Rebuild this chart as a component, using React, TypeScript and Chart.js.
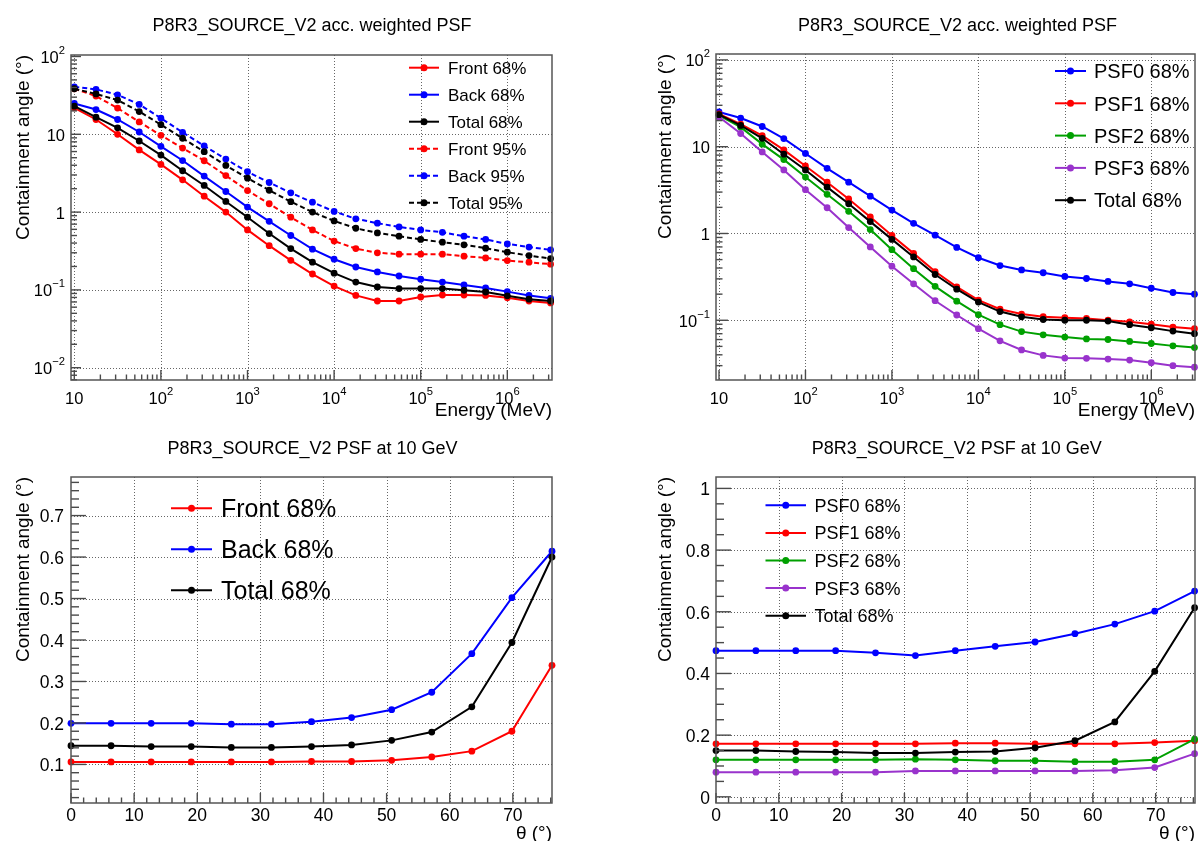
import React, { useEffect, useRef } from 'react';
import { Chart, registerables } from 'chart.js';

Chart.register(...registerables);

const FONT = '"Liberation Sans", Arial, Helvetica, sans-serif';

// ---------- data: energy dependence ----------
const energyMeV = [10, 17.8, 31.6, 56.2, 100, 178, 316, 562, 1000, 1780, 3160, 5620, 10000, 17800, 31600, 56200, 100000, 178000, 316000, 562000, 1000000, 1780000, 3160000];

const front68E = [21.9, 15.5, 10, 6.3, 4.1, 2.6, 1.6, 1.0, 0.59, 0.37, 0.24, 0.16, 0.112, 0.085, 0.072, 0.072, 0.081, 0.086, 0.086, 0.085, 0.079, 0.072, 0.068];
const back68E = [24.9, 20.8, 15.5, 10.7, 7.0, 4.6, 2.9, 1.84, 1.16, 0.76, 0.5, 0.334, 0.248, 0.197, 0.17, 0.151, 0.137, 0.126, 0.116, 0.106, 0.095, 0.085, 0.078];
const total68E = [23, 16.6, 12.1, 8.2, 5.4, 3.4, 2.2, 1.37, 0.86, 0.53, 0.34, 0.227, 0.164, 0.126, 0.109, 0.104, 0.104, 0.104, 0.099, 0.094, 0.084, 0.076, 0.072];
const front95E = [38.5, 31, 21.7, 14.4, 9.7, 6.65, 4.57, 2.95, 1.89, 1.28, 0.86, 0.59, 0.424, 0.34, 0.3, 0.288, 0.288, 0.288, 0.271, 0.258, 0.238, 0.227, 0.214];
const back95E = [40.8, 37.8, 32.2, 24.2, 16.1, 10.6, 7.1, 4.8, 3.3, 2.4, 1.77, 1.34, 1.02, 0.82, 0.72, 0.645, 0.59, 0.55, 0.49, 0.445, 0.39, 0.355, 0.327];
const total95E = [38.5, 33, 27.5, 19.6, 13.3, 8.9, 5.97, 3.98, 2.73, 1.91, 1.36, 1.0, 0.77, 0.62, 0.54, 0.49, 0.445, 0.41, 0.38, 0.344, 0.305, 0.276, 0.253];

const psf0E = [25.1, 21.4, 17.1, 12.4, 8.36, 5.63, 3.9, 2.69, 1.86, 1.31, 0.955, 0.69, 0.525, 0.427, 0.38, 0.353, 0.32, 0.303, 0.28, 0.263, 0.234, 0.209, 0.2];
const psf1E = [23.8, 18.2, 13.4, 9.2, 6.0, 3.9, 2.5, 1.55, 0.95, 0.59, 0.364, 0.243, 0.171, 0.134, 0.118, 0.11, 0.107, 0.105, 0.1, 0.096, 0.09, 0.0835, 0.08];
const psf2E = [23, 16.8, 10.7, 7.1, 4.47, 2.83, 1.8, 1.11, 0.65, 0.393, 0.246, 0.166, 0.116, 0.089, 0.074, 0.068, 0.064, 0.061, 0.06, 0.057, 0.054, 0.0507, 0.0484];
const psf3E = [22, 14.2, 8.7, 5.4, 3.2, 1.98, 1.17, 0.7, 0.42, 0.263, 0.168, 0.115, 0.08, 0.058, 0.0455, 0.0394, 0.0367, 0.0364, 0.0357, 0.0348, 0.0324, 0.03, 0.0288];
const totalPsfE = [23.4, 17.6, 12.5, 8.2, 5.4, 3.42, 2.2, 1.37, 0.855, 0.537, 0.337, 0.228, 0.162, 0.126, 0.1096, 0.102, 0.1, 0.1, 0.098, 0.089, 0.082, 0.075, 0.07];

// ---------- data: off-axis angle dependence at 10 GeV ----------
const thetaDeg = [0, 6.35, 12.7, 19.05, 25.4, 31.75, 38.1, 44.45, 50.8, 57.15, 63.5, 69.85, 76.2];

const front68T = [0.106, 0.106, 0.106, 0.106, 0.106, 0.106, 0.107, 0.107, 0.11, 0.118, 0.132, 0.18, 0.339];
const back68T = [0.199, 0.199, 0.199, 0.199, 0.197, 0.197, 0.203, 0.213, 0.232, 0.274, 0.367, 0.502, 0.614];
const total68T = [0.145, 0.145, 0.143, 0.143, 0.141, 0.141, 0.143, 0.147, 0.158, 0.178, 0.239, 0.394, 0.6];

const psf0T = [0.474, 0.474, 0.474, 0.474, 0.467, 0.458, 0.474, 0.488, 0.502, 0.529, 0.56, 0.602, 0.667];
const psf1T = [0.172, 0.172, 0.172, 0.172, 0.172, 0.172, 0.174, 0.174, 0.172, 0.172, 0.172, 0.176, 0.182];
const psf2T = [0.12, 0.12, 0.12, 0.12, 0.12, 0.122, 0.12, 0.117, 0.117, 0.114, 0.114, 0.12, 0.187];
const psf3T = [0.08, 0.08, 0.08, 0.08, 0.08, 0.084, 0.084, 0.084, 0.084, 0.084, 0.086, 0.095, 0.14];
const totalPsfT = [0.15, 0.15, 0.147, 0.145, 0.142, 0.142, 0.145, 0.147, 0.159, 0.182, 0.243, 0.407, 0.613];

// ---------- tick labels ----------
const energyTicks = [10, 100, 1000, 10000, 100000, 1000000];
const energyTickLabels = ['10', '10^2', '10^3', '10^4', '10^5', '10^6'];
const angleTicksTL = [0.01, 0.1, 1, 10, 100];
const angleTickLabelsTL = ['10^\u22122', '10^\u22121', '1', '10', '10^2'];
const angleTicksTR = [0.1, 1, 10, 100];
const angleTickLabelsTR = ['10^\u22121', '1', '10', '10^2'];
const thetaTicks = [0, 10, 20, 30, 40, 50, 60, 70];
const thetaTickLabels = ['0', '10', '20', '30', '40', '50', '60', '70'];
const angleTicksBL = [0.1, 0.2, 0.3, 0.4, 0.5, 0.6, 0.7];
const angleTickLabelsBL = ['0.1', '0.2', '0.3', '0.4', '0.5', '0.6', '0.7'];
const angleTicksBR = [0, 0.2, 0.4, 0.6, 0.8, 1];
const angleTickLabelsBR = ['0', '0.2', '0.4', '0.6', '0.8', '1'];

const RED = '#ff0000';
const BLUE = '#0000ff';
const BLACK = '#000000';
const GREEN = '#00a000';
const PURPLE = '#9933cc';

type Series = { label: string; data: number[]; color: string; dashed?: boolean };
type PanelSpec = {
  area: { l: number; t: number; r: number; b: number };
  xType: 'linear' | 'logarithmic';
  yType: 'linear' | 'logarithmic';
  xMin: number; xMax: number; yMin: number; yMax: number;
  xMajor: number[]; xLabels: string[]; yMajor: number[]; yLabels: string[];
  xMinorStep: number; yMinorStep: number;
  xTickLen: [number, number]; yTickLen: [number, number];
  tickFont: number; xLabelBaseline: number; yLabelRight: number;
  title: string; titleX: number; titleY: number; titleFont: number;
  xTitle: string; xTitleY: number; yTitle: string; yTitleX: number; axisTitleFont: number;
  legend: { x0: number; x1: number; tx: number; y0: number; dy: number; font: number };
  x: number[];
  series: Series[];
};

const panels: PanelSpec[] = [
  {
    area: { l: 71, t: 55, r: 552, b: 380 },
    xType: 'logarithmic', yType: 'logarithmic',
    xMin: 9.16, xMax: 3.28e6, yMin: 0.00695, yMax: 104.5,
    xMajor: energyTicks, xLabels: energyTickLabels, yMajor: angleTicksTL, yLabels: angleTickLabelsTL,
    xMinorStep: 0, yMinorStep: 0,
    xTickLen: [10, 5.5], yTickLen: [10, 6],
    tickFont: 16.5, xLabelBaseline: 404, yLabelRight: 65,
    title: 'P8R3_SOURCE_V2 acc. weighted PSF', titleX: 312, titleY: 30.5, titleFont: 18,
    xTitle: 'Energy (MeV)', xTitleY: 416, yTitle: 'Containment angle (\u00b0)', yTitleX: 29, axisTitleFont: 19,
    legend: { x0: 409, x1: 439, tx: 448, y0: 67.7, dy: 27, font: 17 },
    x: energyMeV,
    series: [
      { label: 'Front 68%', data: front68E, color: RED },
      { label: 'Back 68%', data: back68E, color: BLUE },
      { label: 'Total 68%', data: total68E, color: BLACK },
      { label: 'Front 95%', data: front95E, color: RED, dashed: true },
      { label: 'Back 95%', data: back95E, color: BLUE, dashed: true },
      { label: 'Total 95%', data: total95E, color: BLACK, dashed: true },
    ],
  },
  {
    area: { l: 716, t: 54, r: 1195, b: 380 },
    xType: 'logarithmic', yType: 'logarithmic',
    xMin: 9.23, xMax: 3.17e6, yMin: 0.0205, yMax: 117,
    xMajor: energyTicks, xLabels: energyTickLabels, yMajor: angleTicksTR, yLabels: angleTickLabelsTR,
    xMinorStep: 0, yMinorStep: 0,
    xTickLen: [10, 5.5], yTickLen: [12, 6.5],
    tickFont: 16.5, xLabelBaseline: 404, yLabelRight: 710,
    title: 'P8R3_SOURCE_V2 acc. weighted PSF', titleX: 957.5, titleY: 30.5, titleFont: 18,
    xTitle: 'Energy (MeV)', xTitleY: 416, yTitle: 'Containment angle (\u00b0)', yTitleX: 671, axisTitleFont: 19,
    legend: { x0: 1055, x1: 1086, tx: 1094, y0: 71, dy: 32.3, font: 20 },
    x: energyMeV,
    series: [
      { label: 'PSF0 68%', data: psf0E, color: BLUE },
      { label: 'PSF1 68%', data: psf1E, color: RED },
      { label: 'PSF2 68%', data: psf2E, color: GREEN },
      { label: 'PSF3 68%', data: psf3E, color: PURPLE },
      { label: 'Total 68%', data: totalPsfE, color: BLACK },
    ],
  },
  {
    area: { l: 71, t: 477, r: 552, b: 803 },
    xType: 'linear', yType: 'linear',
    xMin: 0, xMax: 76.2, yMin: 0.007, yMax: 0.793,
    xMajor: thetaTicks, xLabels: thetaTickLabels, yMajor: angleTicksBL, yLabels: angleTickLabelsBL,
    xMinorStep: 2, yMinorStep: 0.02,
    xTickLen: [10, 5.5], yTickLen: [15, 8],
    tickFont: 17.5, xLabelBaseline: 820.5, yLabelRight: 64,
    title: 'P8R3_SOURCE_V2 PSF at 10 GeV', titleX: 312.5, titleY: 454, titleFont: 18,
    xTitle: '\u03b8 (\u00b0)', xTitleY: 838.5, yTitle: 'Containment angle (\u00b0)', yTitleX: 29, axisTitleFont: 19,
    legend: { x0: 171, x1: 212, tx: 221, y0: 508.3, dy: 41, font: 25 },
    x: thetaDeg,
    series: [
      { label: 'Front 68%', data: front68T, color: RED },
      { label: 'Back 68%', data: back68T, color: BLUE },
      { label: 'Total 68%', data: total68T, color: BLACK },
    ],
  },
  {
    area: { l: 716, t: 477, r: 1195, b: 803 },
    xType: 'linear', yType: 'linear',
    xMin: 0, xMax: 76.2, yMin: -0.02, yMax: 1.037,
    xMajor: thetaTicks, xLabels: thetaTickLabels, yMajor: angleTicksBR, yLabels: angleTickLabelsBR,
    xMinorStep: 2, yMinorStep: 0.05,
    xTickLen: [10, 5.5], yTickLen: [15, 8],
    tickFont: 17.5, xLabelBaseline: 820.5, yLabelRight: 710,
    title: 'P8R3_SOURCE_V2 PSF at 10 GeV', titleX: 956.8, titleY: 454, titleFont: 18,
    xTitle: '\u03b8 (\u00b0)', xTitleY: 838.5, yTitle: 'Containment angle (\u00b0)', yTitleX: 671, axisTitleFont: 19,
    legend: { x0: 765.5, x1: 806, tx: 814.5, y0: 505.3, dy: 27.6, font: 18 },
    x: thetaDeg,
    series: [
      { label: 'PSF0 68%', data: psf0T, color: BLUE },
      { label: 'PSF1 68%', data: psf1T, color: RED },
      { label: 'PSF2 68%', data: psf2T, color: GREEN },
      { label: 'PSF3 68%', data: psf3T, color: PURPLE },
      { label: 'Total 68%', data: totalPsfT, color: BLACK },
    ],
  },
];

function tickSet(type: string, min: number, max: number, step: number, majors: number[]) {
  const out: { v: number; major: boolean }[] = [];
  if (type === 'logarithmic') {
    for (let e = Math.floor(Math.log10(min)); e <= Math.ceil(Math.log10(max)); e++) {
      for (let m = 1; m <= 9; m++) {
        const v = m * Math.pow(10, e);
        if (v >= min * 0.9999 && v <= max * 1.0001) out.push({ v, major: m === 1 });
      }
    }
  } else {
    for (let k = Math.ceil(min / step - 1e-9); k * step <= max + 1e-9; k++) {
      const v = k * step;
      out.push({ v, major: majors.some((M) => Math.abs(M - v) < step * 1e-3) });
    }
  }
  return out;
}

function drawSci(ctx: CanvasRenderingContext2D, text: string, x: number, y: number, size: number, align: 'center' | 'right') {
  const parts = text.split('^');
  const base = parts[0];
  const exp = parts[1];
  ctx.font = `${size}px ${FONT}`;
  const wb = ctx.measureText(base).width;
  const es = size * 0.68;
  let we = 0;
  if (exp) {
    ctx.font = `${es}px ${FONT}`;
    we = ctx.measureText(exp).width;
  }
  const total = wb + we;
  const x0 = align === 'center' ? x - total / 2 : x - total;
  ctx.textAlign = 'left';
  ctx.textBaseline = 'alphabetic';
  ctx.font = `${size}px ${FONT}`;
  ctx.fillText(base, x0, y);
  if (exp) {
    ctx.font = `${es}px ${FONT}`;
    ctx.fillText(exp, x0 + wb, y - size * 0.55);
  }
}

function makePlugin(p: PanelSpec) {
  return {
    id: 'rootStyle',
    beforeDatasetsDraw(chart: any) {
      const ctx: CanvasRenderingContext2D = chart.ctx;
      const xs = chart.scales.x;
      const ys = chart.scales.y;
      const { l, t, r, b } = p.area;
      ctx.save();
      ctx.strokeStyle = 'rgba(0,0,0,0.6)';
      ctx.lineWidth = 1;
      ctx.setLineDash([1, 2]);
      for (const v of p.xMajor) {
        const px = Math.round(xs.getPixelForValue(v)) + 0.5;
        if (px < l + 2 || px > r - 2) continue;
        ctx.beginPath();
        ctx.moveTo(px, t);
        ctx.lineTo(px, b);
        ctx.stroke();
      }
      for (const v of p.yMajor) {
        const py = Math.round(ys.getPixelForValue(v)) + 0.5;
        if (py < t + 2 || py > b - 2) continue;
        ctx.beginPath();
        ctx.moveTo(l, py);
        ctx.lineTo(r, py);
        ctx.stroke();
      }
      ctx.restore();
    },
    afterDatasetsDraw(chart: any) {
      const ctx: CanvasRenderingContext2D = chart.ctx;
      const xs = chart.scales.x;
      const ys = chart.scales.y;
      const { l, t, r, b } = p.area;
      ctx.save();
      ctx.setLineDash([]);
      // tick marks
      ctx.strokeStyle = '#4a4a4a';
      ctx.lineWidth = 1.4;
      for (const tk of tickSet(p.xType, p.xMin, p.xMax, p.xMinorStep, p.xMajor)) {
        const px = xs.getPixelForValue(tk.v);
        const len = tk.major ? p.xTickLen[0] : p.xTickLen[1];
        ctx.beginPath();
        ctx.moveTo(px, b);
        ctx.lineTo(px, b - len);
        ctx.stroke();
      }
      for (const tk of tickSet(p.yType, p.yMin, p.yMax, p.yMinorStep, p.yMajor)) {
        const py = ys.getPixelForValue(tk.v);
        const len = tk.major ? p.yTickLen[0] : p.yTickLen[1];
        ctx.beginPath();
        ctx.moveTo(l, py);
        ctx.lineTo(l + len, py);
        ctx.stroke();
      }
      // frame
      ctx.strokeStyle = '#555555';
      ctx.lineWidth = 1.5;
      ctx.strokeRect(l, t, r - l, b - t);

      ctx.fillStyle = '#000000';
      // tick labels
      p.xMajor.forEach((v, i) => {
        drawSci(ctx, p.xLabels[i], xs.getPixelForValue(v), p.xLabelBaseline, p.tickFont, 'center');
      });
      p.yMajor.forEach((v, i) => {
        const py = ys.getPixelForValue(v);
        drawSci(ctx, p.yLabels[i], p.yLabelRight, py + p.tickFont * 0.36 + 0.5, p.tickFont, 'right');
      });
      // panel title
      ctx.font = `${p.titleFont}px ${FONT}`;
      ctx.textAlign = 'center';
      ctx.textBaseline = 'alphabetic';
      ctx.fillText(p.title, p.titleX, p.titleY);
      // axis titles
      ctx.font = `${p.axisTitleFont}px ${FONT}`;
      ctx.textAlign = 'right';
      ctx.fillText(p.xTitle, r, p.xTitleY);
      ctx.save();
      ctx.translate(p.yTitleX, t);
      ctx.rotate(-Math.PI / 2);
      ctx.textAlign = 'right';
      ctx.fillText(p.yTitle, 0, 0);
      ctx.restore();
      // legend
      const lg = p.legend;
      chart.data.datasets.forEach((ds: any, i: number) => {
        const y = lg.y0 + i * lg.dy;
        ctx.strokeStyle = ds.borderColor;
        ctx.lineWidth = 2;
        ctx.setLineDash(ds.borderDash || []);
        ctx.beginPath();
        ctx.moveTo(lg.x0, y);
        ctx.lineTo(lg.x1, y);
        ctx.stroke();
        ctx.setLineDash([]);
        ctx.fillStyle = ds.borderColor;
        ctx.beginPath();
        ctx.arc((lg.x0 + lg.x1) / 2, y, 3.5, 0, Math.PI * 2);
        ctx.fill();
        ctx.fillStyle = '#000000';
        ctx.font = `${lg.font}px ${FONT}`;
        ctx.textAlign = 'left';
        ctx.textBaseline = 'alphabetic';
        ctx.fillText(ds.label, lg.tx, y + lg.font * 0.36);
      });
      ctx.restore();
    },
  };
}

function PanelChart({ spec }: { spec: PanelSpec }) {
  const ref = useRef<HTMLCanvasElement>(null);
  useEffect(() => {
    const canvas = ref.current;
    if (!canvas) return;
    const n = spec.series.length;
    const chart = new Chart(canvas, {
      type: 'line',
      data: {
        datasets: spec.series.map((s, i) => ({
          label: s.label,
          data: spec.x.map((x, k) => ({ x, y: s.data[k] })),
          borderColor: s.color,
          backgroundColor: s.color,
          pointBackgroundColor: s.color,
          pointBorderColor: s.color,
          pointRadius: 3.4,
          pointHoverRadius: 3.4,
          pointBorderWidth: 0,
          borderWidth: 2,
          borderDash: s.dashed ? [5, 3] : [],
          tension: 0,
          fill: false,
          order: n - i,
          clip: 6,
        })),
      },
      options: {
        responsive: false,
        animation: false,
        devicePixelRatio: 1,
        events: [],
        layout: {
          padding: { left: spec.area.l, top: spec.area.t, right: 1198 - spec.area.r, bottom: 841 - spec.area.b },
        },
        scales: {
          x: { type: spec.xType, min: spec.xMin, max: spec.xMax, display: false, bounds: 'data' },
          y: { type: spec.yType, min: spec.yMin, max: spec.yMax, display: false, bounds: 'data' },
        },
        plugins: {
          legend: { display: false },
          tooltip: { enabled: false },
          title: { display: false },
        },
      },
      plugins: [makePlugin(spec)],
    } as any);
    return () => chart.destroy();
  }, [spec]);
  return (
    <canvas
      ref={ref}
      width={1198}
      height={841}
      style={{ position: 'absolute', left: 0, top: 0, width: 1198, height: 841 }}
    />
  );
}

export default function App() {
  return (
    <div style={{ position: 'absolute', left: 0, top: 0, width: 1198, height: 841, background: '#ffffff', overflow: 'hidden' }}>
      {panels.map((p, i) => (
        <PanelChart key={i} spec={p} />
      ))}
    </div>
  );
}
